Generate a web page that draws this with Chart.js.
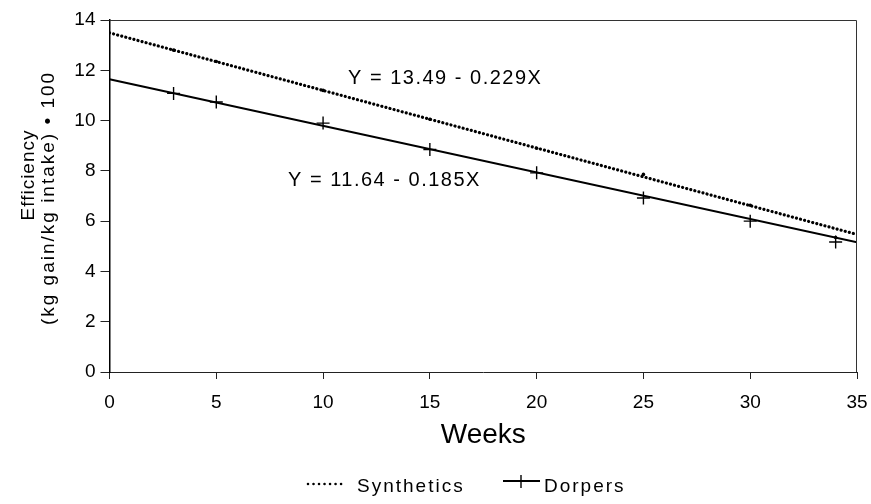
<!DOCTYPE html>
<html>
<head>
<meta charset="utf-8">
<script src="https://cdn.jsdelivr.net/npm/chart.js@4.4.1/dist/chart.umd.min.js"></script>
<style>
  html, body { margin: 0; padding: 0; background: #fff; }
  #wrap { width: 871px; height: 504px; }
</style>
</head>
<body>
<div id="wrap"><canvas id="c" width="871" height="504"></canvas></div>
<script>
// ---- data ----
const weeks = [3, 5, 10, 15, 20, 25, 30, 34];
const dorpers = [11.08, 10.74, 9.90, 8.85, 7.92, 6.92, 6.00, 5.17];
const synthetics = [12.80, 12.35, 11.20, 10.05, 8.90, 7.86, 6.63, 5.35];
const fitWeeks = [0, 35];
const synthFit = [13.49, 5.47];
const dorpFit = [11.64, 5.16];
const xTicks = [0, 5, 10, 15, 20, 25, 30, 35];
const yTicks = [0, 2, 4, 6, 8, 10, 12, 14];
const seriesNames = ['Synthetics', 'Dorpers'];
const equations = ['Y = 13.49 - 0.229X', 'Y = 11.64 - 0.185X'];
const equationAnchors = [[11.17, 11.69], [8.36, 7.63]]; // data-space left/middle anchors
const xTitle = 'Weeks';
const yTitle = ['Efficiency', '(kg gain/kg intake) \u2022 100'];

const FONT = '"Liberation Sans", Arial, Helvetica, sans-serif';
const INK = '#000';
const pts = (xs, ys) => xs.map((x, i) => ({ x: x, y: ys[i] }));

function spacedText(ctx, text, x, y, spacing) {
  if ('letterSpacing' in ctx) {
    ctx.letterSpacing = spacing + 'px';
    ctx.fillText(text, x, y);
    ctx.letterSpacing = '0px';
  } else {
    ctx.fillText(text, x, y);
  }
}

const decorPlugin = {
  id: 'decor',
  afterDraw(chart) {
    const ctx = chart.ctx;
    const a = chart.chartArea;
    const xs = chart.scales.x, ys = chart.scales.y;
    ctx.save();
    // top & right frame
    ctx.strokeStyle = '#333';
    ctx.lineWidth = 1;
    ctx.beginPath();
    ctx.moveTo(a.left, a.top + 0.5);
    ctx.lineTo(a.right - 0.5, a.top + 0.5);
    ctx.lineTo(a.right - 0.5, a.bottom);
    ctx.stroke();

    ctx.fillStyle = INK;
    // equations
    ctx.font = '20px ' + FONT;
    ctx.textAlign = 'left';
    ctx.textBaseline = 'middle';
    equations.forEach((t, i) => {
      const px = xs.getPixelForValue(equationAnchors[i][0]);
      const py = ys.getPixelForValue(equationAnchors[i][1]);
      spacedText(ctx, t, px, py, 1.5);
    });

    // x title
    ctx.font = '28px ' + FONT;
    ctx.textAlign = 'center';
    ctx.textBaseline = 'alphabetic';
    ctx.fillText(xTitle, (a.left + a.right) / 2, 443);

    // y title (two rotated lines)
    ctx.font = '19px ' + FONT;
    ctx.save();
    ctx.translate(34, 175);
    ctx.rotate(-Math.PI / 2);
    ctx.textAlign = 'center';
    spacedText(ctx, yTitle[0], 0, 0, 1);
    ctx.restore();
    ctx.save();
    ctx.translate(54, 198);
    ctx.rotate(-Math.PI / 2);
    ctx.textAlign = 'center';
    spacedText(ctx, yTitle[1], 0, 0, 2);
    ctx.restore();

    // legend
    ctx.font = '19px ' + FONT;
    ctx.textAlign = 'left';
    ctx.textBaseline = 'alphabetic';
    // Synthetics sample: dotted
    ctx.strokeStyle = INK;
    ctx.lineWidth = 2.6;
    ctx.lineCap = 'round';
    ctx.setLineDash([0.01, 5.5]);
    ctx.beginPath();
    ctx.moveTo(308, 484);
    ctx.lineTo(342, 484);
    ctx.stroke();
    ctx.setLineDash([]);
    ctx.lineCap = 'butt';
    spacedText(ctx, seriesNames[0], 357, 492, 2);
    // Dorpers sample: line with cross
    ctx.lineWidth = 1.8;
    ctx.beginPath();
    ctx.moveTo(503, 481);
    ctx.lineTo(540, 481);
    ctx.stroke();
    ctx.lineWidth = 1.4;
    ctx.beginPath();
    ctx.moveTo(521, 475);
    ctx.lineTo(521, 488);
    ctx.stroke();
    spacedText(ctx, seriesNames[1], 544, 492, 2);
    ctx.restore();
  }
};

new Chart(document.getElementById('c'), {
  type: 'line',
  data: {
    datasets: [
      {
        label: seriesNames[0] + ' fit',
        data: pts(fitWeeks, synthFit),
        borderColor: INK,
        borderWidth: 3.2,
        borderDash: [0.01, 4.2],
        borderCapStyle: 'round',
        pointRadius: 0,
        fill: false,
        tension: 0
      },
      {
        label: seriesNames[0],
        data: pts(weeks, synthetics),
        showLine: false,
        pointStyle: 'circle',
        pointRadius: 1.8,
        pointBackgroundColor: INK,
        pointBorderColor: INK,
        pointBorderWidth: 0
      },
      {
        label: seriesNames[1] + ' fit',
        data: pts(fitWeeks, dorpFit),
        borderColor: INK,
        borderWidth: 2,
        pointRadius: 0,
        fill: false,
        tension: 0
      },
      {
        label: seriesNames[1],
        data: pts(weeks, dorpers),
        showLine: false,
        pointStyle: 'cross',
        pointRadius: 6.5,
        pointBorderColor: INK,
        pointBorderWidth: 1.4
      }
    ]
  },
  options: {
    responsive: false,
    animation: false,
    events: [],
    layout: { padding: { left: 0, right: 14, top: 20, bottom: 0 } },
    plugins: {
      legend: { display: false },
      tooltip: { enabled: false },
      title: { display: false }
    },
    scales: {
      x: {
        type: 'linear',
        min: xTicks[0],
        max: xTicks[xTicks.length - 1],
        afterBuildTicks: (s) => { s.ticks = xTicks.map(v => ({ value: v })); },
        afterFit: (s) => { s.height = 132; s.paddingRight = 0; s.paddingLeft = 0; },
        ticks: {
          color: INK,
          font: { family: FONT, size: 19 },
          padding: 12,
          maxRotation: 0
        },
        grid: {
          display: true,
          drawOnChartArea: false,
          drawTicks: true,
          tickLength: 7,
          tickColor: '#222',
          tickWidth: 1
        },
        border: { display: true, color: '#222', width: 1 }
      },
      y: {
        type: 'linear',
        min: yTicks[0],
        max: yTicks[yTicks.length - 1],
        afterBuildTicks: (s) => { s.ticks = yTicks.map(v => ({ value: v })); },
        afterFit: (s) => { s.width = 109.5; s.paddingTop = 0; s.paddingBottom = 0; },
        ticks: {
          color: INK,
          font: { family: FONT, size: 19 },
          padding: 5
        },
        grid: {
          display: true,
          drawOnChartArea: false,
          drawTicks: true,
          tickLength: 9,
          tickColor: '#222',
          tickWidth: 1
        },
        border: { display: true, color: INK, width: 1.5 }
      }
    }
  },
  plugins: [decorPlugin]
});
</script>
</body>
</html>
